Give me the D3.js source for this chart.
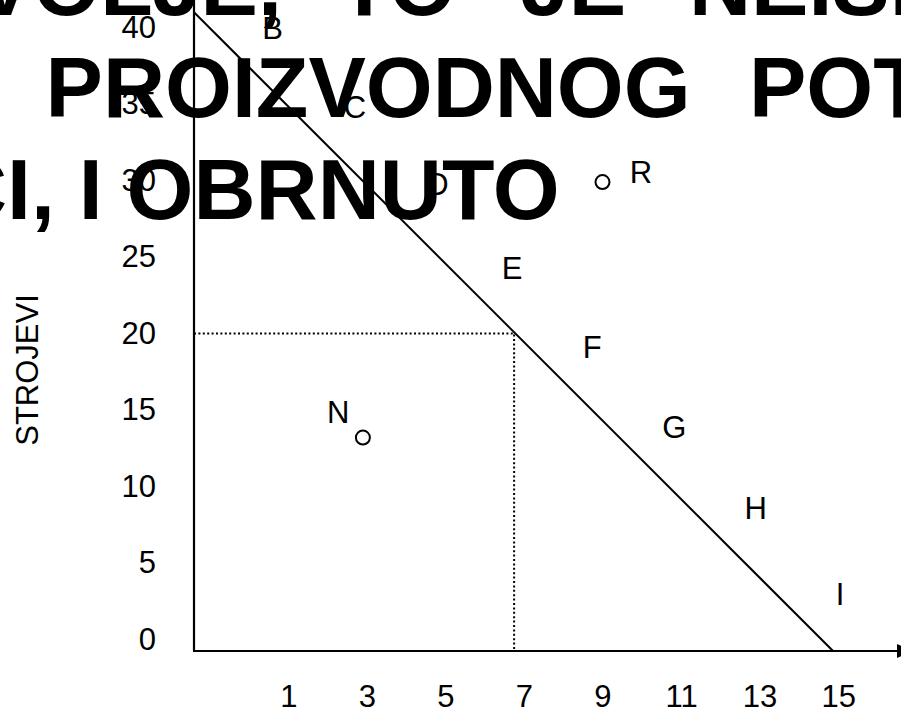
<!DOCTYPE html>
<html>
<head>
<meta charset="utf-8">
<script src="https://cdn.jsdelivr.net/npm/d3@7"></script>
<style>
  html, body { margin: 0; padding: 0; background: #fff; overflow: hidden; }
  svg { display: block; font-family: "Liberation Sans", Arial, sans-serif; }
</style>
</head>
<body>
<svg id="chart" width="901" height="713"></svg>
<script>
// ---- data ----
var xTicks = [1, 3, 5, 7, 9, 11, 13, 15];
var yTicks = [0, 5, 10, 15, 20, 25, 30, 35, 40];
var yTitle = 'STROJEVI';

// production possibility line, from the y axis down to the x axis
var frontier = [[-1.4, 41.0], [14.87, -0.75]];
// point on the line with dotted guides to both axes
var guide = [6.75, 20];

// letters along the frontier
var pointNames = ['B', 'C', 'D', 'E', 'F', 'G', 'H', 'I'];
var pointX = [0.6, 2.7, 4.8, 6.7, 8.74, 10.83, 12.9, 15.05];
var pointY = [40, 34.8, 29.8, 24.3, 19.1, 13.9, 8.6, 3.0];

// points inside and outside the line
var dotNames = ['N', 'R'];
var dotX = [2.9, 9.0];
var dotY = [13.2, 29.9];
var dotLabelX = [2.27, 9.98];
var dotLabelY = [14.9, 30.6];

// big heading lying over the chart (only a part of it is in the frame)
var headLines = [
  ['VOLJE,', 'TO', 'JE', 'NEISKORIŠTENOST'],
  ['PROIZVODNOG', 'POTENCIJALA'],
  ['CI, I OBRNUTO']
];
// ------------------------------------

var svg = d3.select('#chart');

var x = d3.scaleLinear().domain([-1.4, 16.6]).range([194, 901]);
var y = d3.scaleLinear().domain([-0.75, 41.8]).range([651, 0]);

var x0 = x.range()[0], y0 = y.range()[0];

// guides (dotted)
svg.append('path')
  .attr('d', d3.line()([[x0, y(guide[1])], [x(guide[0]), y(guide[1])], [x(guide[0]), y0]]))
  .attr('fill', 'none')
  .attr('stroke', '#000')
  .attr('stroke-width', 2)
  .attr('stroke-dasharray', '2,2.4');

// frontier
svg.append('path')
  .datum(frontier)
  .attr('d', d3.line().x(d => x(d[0])).y(d => y(d[1])))
  .attr('fill', 'none')
  .attr('stroke', '#000')
  .attr('stroke-width', 2);

// axes lines
svg.append('line')
  .attr('x1', x0).attr('x2', x0)
  .attr('y1', y0).attr('y2', y.range()[1])
  .attr('stroke', '#000').attr('stroke-width', 2.2);
svg.append('line')
  .attr('x1', x0 - 1).attr('x2', x.range()[1] - 3)
  .attr('y1', y0).attr('y2', y0)
  .attr('stroke', '#000').attr('stroke-width', 2.2);
// arrow head at the end of the x axis
svg.append('path')
  .attr('d', 'M' + (x.range()[1] - 4) + ',' + (y0 - 7) + 'L' + (x.range()[1] + 12) + ',' + y0 + 'L' + (x.range()[1] - 4) + ',' + (y0 + 7) + 'Z')
  .attr('fill', '#000');

// tick labels
var yAxis = svg.append('g')
  .attr('transform', 'translate(156,0)')
  .call(d3.axisLeft(y).tickValues(yTicks).tickSize(0).tickPadding(0));
yAxis.select('.domain').remove();
yAxis.selectAll('text')
  .attr('font-size', 31)
  .attr('font-family', '"Liberation Sans", Arial, sans-serif')
  .attr('fill', '#000');

var xAxis = svg.append('g')
  .attr('transform', 'translate(0,685)')
  .call(d3.axisBottom(x).tickValues(xTicks).tickSize(0).tickPadding(0));
xAxis.select('.domain').remove();
xAxis.selectAll('text')
  .attr('font-size', 31)
  .attr('font-family', '"Liberation Sans", Arial, sans-serif')
  .attr('fill', '#000');

// y title
svg.append('text')
  .attr('transform', 'translate(38,370) rotate(-90)')
  .attr('text-anchor', 'middle')
  .attr('font-size', 31)
  .text(yTitle);

// point letters
svg.selectAll('text.pt')
  .data(pointNames)
  .enter().append('text')
  .attr('class', 'pt')
  .attr('x', (d, i) => x(pointX[i]))
  .attr('y', (d, i) => y(pointY[i]))
  .attr('dy', '0.36em')
  .attr('text-anchor', 'middle')
  .attr('font-size', 31)
  .text(d => d);

// circles N and R
svg.selectAll('circle.dot')
  .data(dotNames)
  .enter().append('circle')
  .attr('class', 'dot')
  .attr('cx', (d, i) => x(dotX[i]))
  .attr('cy', (d, i) => y(dotY[i]))
  .attr('r', 7)
  .attr('fill', '#fff')
  .attr('stroke', '#000')
  .attr('stroke-width', 2);

svg.selectAll('text.dotlab')
  .data(dotNames)
  .enter().append('text')
  .attr('class', 'dotlab')
  .attr('x', (d, i) => x(dotLabelX[i]))
  .attr('y', (d, i) => y(dotLabelY[i]))
  .attr('dy', '0.36em')
  .attr('text-anchor', 'middle')
  .attr('font-size', 31)
  .text(d => d);

// heading on top
var headX = [[-24, 338, 521, 689], [45.6, 749], [-55]];
var headY = [15, 117, 219];
var head = svg.append('g')
  .attr('font-size', 86)
  .attr('font-weight', 'bold')
  .attr('fill', '#000');
headLines.forEach(function(words, li) {
  var t = head.append('text').attr('y', headY[li]);
  words.forEach(function(w, wi) {
    t.append('tspan').attr('x', headX[li][wi]).text(w);
  });
});
</script>
</body>
</html>
